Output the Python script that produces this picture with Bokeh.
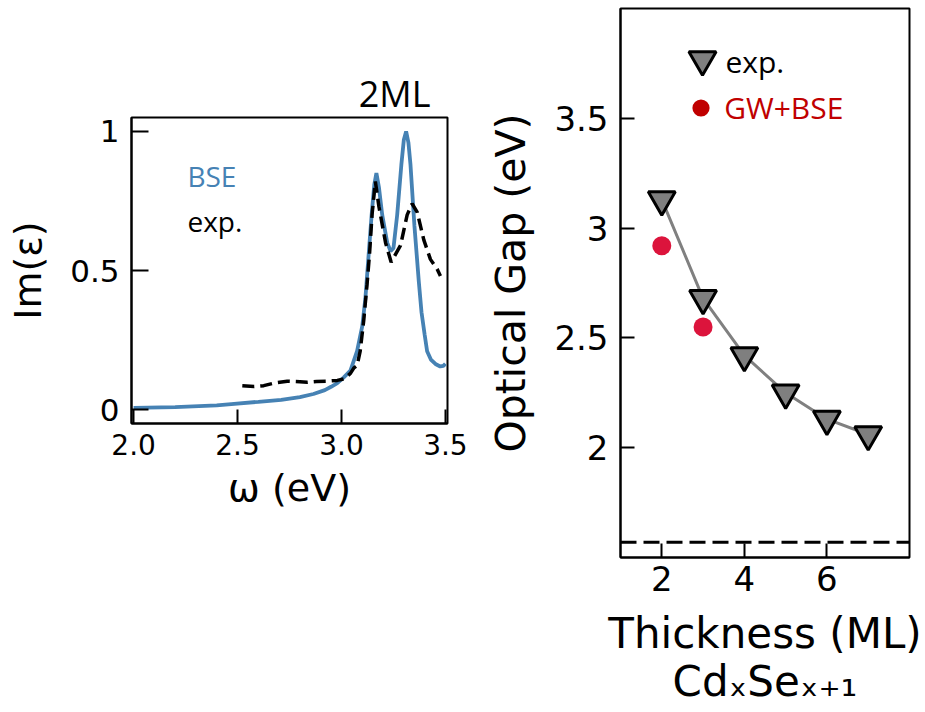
from bokeh.plotting import figure
from bokeh.layouts import row, column
from bokeh.models import (Range1d, FixedTicker, Label, Legend, LegendItem, Span,
                          LinearAxis)
from bokeh.embed import file_html
from bokeh.resources import INLINE

# ---- left panel: Im(eps) spectra for 2ML ----
bse_energy = [2.00, 2.20, 2.40, 2.47, 2.60, 2.71, 2.80, 2.865, 2.92, 2.95, 2.98,
              3.01, 3.043, 3.075, 3.10, 3.115, 3.13, 3.145, 3.158, 3.168, 3.18,
              3.196, 3.22, 3.236, 3.25, 3.268, 3.288, 3.30, 3.311, 3.322, 3.332,
              3.351, 3.372, 3.385, 3.40, 3.412, 3.43, 3.452, 3.475, 3.49, 3.50]
bse_im = [0.006, 0.009, 0.015, 0.020, 0.028, 0.035, 0.045, 0.056, 0.070, 0.082, 0.095,
          0.115, 0.140, 0.210, 0.300, 0.400, 0.550, 0.700, 0.810, 0.850, 0.800,
          0.700, 0.600, 0.570, 0.580, 0.700, 0.880, 0.970, 1.000, 0.960, 0.880,
          0.660, 0.460, 0.350, 0.270, 0.210, 0.180, 0.164, 0.155, 0.157, 0.165]

exp_energy = [2.523, 2.58, 2.626, 2.674, 2.739, 2.80, 2.835, 2.88, 2.931, 2.98,
              3.011, 3.043, 3.06, 3.075, 3.09, 3.107, 3.123, 3.135, 3.147, 3.163,
              3.18, 3.212, 3.239, 3.284, 3.316, 3.34, 3.364, 3.396, 3.428, 3.46, 3.476]
exp_im = [0.086, 0.083, 0.086, 0.095, 0.102, 0.100, 0.098, 0.101, 0.102, 0.105,
          0.110, 0.130, 0.150, 0.158, 0.210, 0.320, 0.450, 0.560, 0.700, 0.820,
          0.730, 0.600, 0.530, 0.590, 0.700, 0.740, 0.710, 0.610, 0.540, 0.505, 0.480]

eps_xticks = [2.0, 2.5, 3.0, 3.5]
eps_xtick_labels = ["2.0", "2.5", "3.0", "3.5"]
eps_yticks = [0, 0.5, 1]
eps_ytick_labels = ["0", "0.5", "1"]

# ---- right panel: optical gap vs thickness ----
thickness = [2, 3, 4, 5, 6, 7]
gap_exp = [3.13, 2.68, 2.42, 2.25, 2.13, 2.06]
gw_thickness = [2, 3]
gap_gw = [2.92, 2.55]
bulk_gap = 1.57

gap_xticks = [2, 4, 6]
gap_yticks = [2, 2.5, 3, 3.5]
gap_ytick_labels = ["2", "2.5", "3", "3.5"]

AX_FONT = "DejaVu Sans"
TXT_FONT = "Open Sans"


def style_axes(p, xsize, ysize, xtick_in, ytick_in):
    p.grid.visible = False
    p.outline_line_color = "black"
    p.outline_line_width = 2
    p.outline_line_alpha = 1
    for ax in (p.xaxis[0], p.yaxis[0]):
        ax.axis_line_color = "black"
        ax.axis_line_width = 2
        ax.major_tick_line_color = "black"
        ax.major_tick_line_width = 2
        ax.major_tick_out = 0
        ax.minor_tick_line_color = None
        ax.major_label_text_font = AX_FONT
        ax.major_label_text_color = "black"
        ax.axis_label_text_font = AX_FONT
        ax.axis_label_text_font_style = "normal"
        ax.axis_label_text_color = "black"
    p.xaxis[0].major_tick_in = xtick_in
    p.yaxis[0].major_tick_in = ytick_in
    p.xaxis[0].major_label_text_font_size = xsize
    p.yaxis[0].major_label_text_font_size = ysize


# Left figure
p1 = figure(width=470, height=712, x_range=Range1d(1.99, 3.51),
            y_range=Range1d(-0.05, 1.05), output_backend="svg",
            toolbar_location=None, min_border_left=131, min_border_right=23,
            min_border_top=117, min_border_bottom=289,
            title="2ML", title_location="above")
p1.title.align = "right"
p1.title.offset = 17
p1.title.standoff = 0
p1.title.text_font = TXT_FONT
p1.title.text_font_size = "36px"
p1.title.text_font_style = "normal"
p1.title.text_color = "black"
style_axes(p1, "28px", "31px", 14, 17)
p1.xaxis[0].ticker = FixedTicker(ticks=eps_xticks)
p1.xaxis[0].major_label_overrides = dict(zip(eps_xticks, eps_xtick_labels))
p1.yaxis[0].ticker = FixedTicker(ticks=eps_yticks)
p1.yaxis[0].major_label_overrides = dict(zip(eps_yticks, eps_ytick_labels))
p1.xaxis[0].major_label_standoff = 10
p1.yaxis[0].major_label_standoff = 12
p1.xaxis[0].axis_label = "ω (eV)"
p1.xaxis[0].axis_label_text_font_size = "38px"
p1.xaxis[0].axis_label_standoff = 8
p1.yaxis[0].axis_label = "Im(ε)"
p1.yaxis[0].axis_label_text_font_size = "38px"
p1.yaxis[0].axis_label_standoff = 17

p1.line(bse_energy, bse_im, line_color="#4682b4", line_width=3.8)
p1.line(exp_energy, exp_im, line_color="black", line_width=3.5, line_dash="12 6")

p1.add_layout(Label(x=2.259, y=0.839, text="BSE", text_color="#4682b4",
                    text_font=TXT_FONT, text_font_size="28px",
                    text_baseline="alphabetic", text_align="left"))
p1.add_layout(Label(x=2.259, y=0.677, text="exp.", text_color="black",
                    text_font=TXT_FONT, text_font_size="28px",
                    text_baseline="alphabetic", text_align="left"))

# Right figure
p2 = figure(width=455, height=712, x_range=Range1d(1, 8),
            y_range=Range1d(1.5, 4.0), output_backend="svg",
            toolbar_location=None, min_border_left=150, min_border_right=16,
            min_border_top=8, min_border_bottom=155)
style_axes(p2, "34px", "34px", 14, 14)
p2.xaxis[0].ticker = FixedTicker(ticks=gap_xticks)
p2.yaxis[0].ticker = FixedTicker(ticks=gap_yticks)
p2.yaxis[0].major_label_overrides = dict(zip(gap_yticks, gap_ytick_labels))
p2.xaxis[0].major_label_standoff = 8
p2.yaxis[0].major_label_standoff = 12
p2.xaxis[0].axis_label = "Thickness (ML)"
p2.xaxis[0].axis_label_text_font_size = "42px"
p2.xaxis[0].axis_label_standoff = 15
p2.yaxis[0].axis_label = "Optical Gap (eV)"
p2.yaxis[0].axis_label_text_font_size = "41px"
p2.yaxis[0].axis_label_standoff = 16

sub_axis = LinearAxis(ticker=FixedTicker(ticks=[]), axis_line_color=None,
                      major_tick_line_color=None, minor_tick_line_color=None,
                      major_label_text_font_size="0px", major_label_standoff=0,
                      axis_label="CdₓSeₓ₊₁", axis_label_text_font=AX_FONT,
                      axis_label_text_font_size="42px",
                      axis_label_text_font_style="normal",
                      axis_label_text_color="black", axis_label_standoff=-4)
p2.add_layout(sub_axis, "below")

p2.add_layout(Span(location=bulk_gap, dimension="width", line_color="black",
                   line_width=3, line_dash="16 7"))
p2.line(thickness, gap_exp, line_color="#808080", line_width=3)
r_tri = p2.scatter(thickness, gap_exp, marker="inverted_triangle", size=27,
                   fill_color="#7f7f7f", line_color="black", line_width=3)
r_gw = p2.scatter(gw_thickness, gap_gw, marker="circle", size=19,
                  fill_color="#dc143c", line_color=None)
r_gw_key = p2.scatter(gw_thickness, gap_gw, marker="circle", size=19,
                      fill_color="#c00000", line_color=None, visible=False)

leg_exp = Legend(items=[LegendItem(label=" ", renderers=[r_tri])],
                 location=(47.7, 463.8), glyph_width=68, glyph_height=68,
                 label_standoff=0, padding=0, margin=0, spacing=0,
                 border_line_alpha=0, background_fill_alpha=0,
                 label_text_font=TXT_FONT, label_text_font_size="30px",
                 label_text_color="black")
leg_gw = Legend(items=[LegendItem(label="GW+BSE", renderers=[r_gw_key])],
                location=(59.2, 428.5), glyph_width=43, glyph_height=43,
                label_standoff=2, padding=0, margin=0, spacing=0,
                border_line_alpha=0, background_fill_alpha=0,
                label_text_font=TXT_FONT, label_text_font_size="30px",
                label_text_color="#c00000")
p2.add_layout(leg_exp)
p2.add_layout(leg_gw)
p2.add_layout(Label(x=3.542, y=3.759, text="exp.", text_color="black",
                    text_font=TXT_FONT, text_font_size="30px",
                    text_baseline="alphabetic", text_align="left"))

layout = row(column(p1), column(p2))
open("out.html", "w").write(file_html(layout, INLINE))
